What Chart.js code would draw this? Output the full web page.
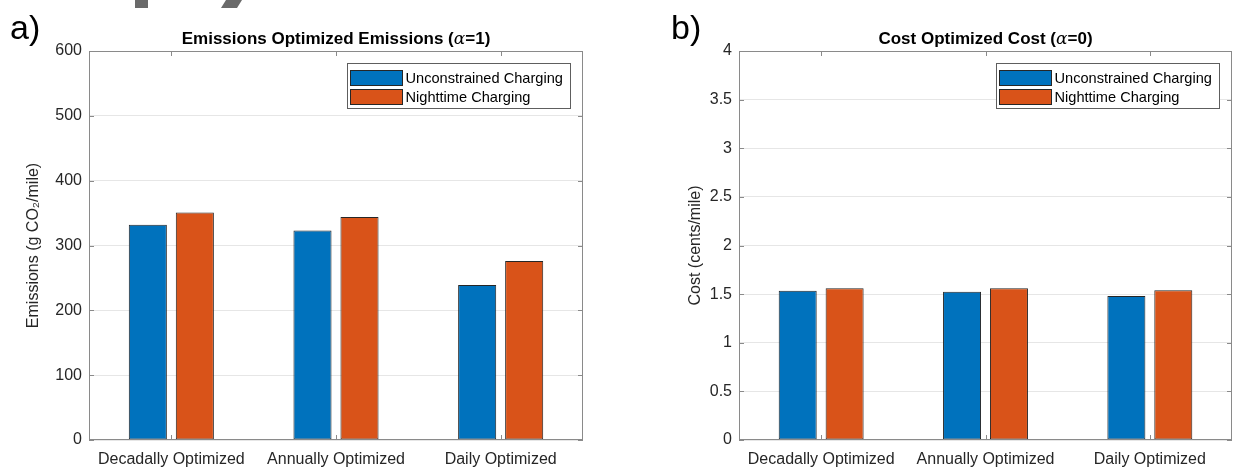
<!DOCTYPE html>
<html>
<head>
<meta charset="utf-8">
<script src="https://cdn.jsdelivr.net/npm/chart.js@4.4.1/dist/chart.umd.min.js"></script>
<style>
  body { margin: 0; background: #fff; }
  #wrap { position: relative; width: 1233px; height: 471px; overflow: hidden; background: #fff; }
  canvas { position: absolute; top: 0; }
</style>
</head>
<body>
<div id="wrap">
  <canvas id="chartA" width="620" height="471" style="left:0px"></canvas>
  <canvas id="chartB" width="613" height="471" style="left:620px"></canvas>
</div>
<script>
var categories = ["Decadally Optimized", "Annually Optimized", "Daily Optimized"];
var seriesNames = ["Unconstrained Charging", "Nighttime Charging"];
var emissionsUnconstrained = [332, 323, 239];
var emissionsNighttime = [351, 344, 276];
var costUnconstrained = [1.535, 1.525, 1.48];
var costNighttime = [1.56, 1.56, 1.54];
var emissionsTicks = [0, 100, 200, 300, 400, 500, 600];
var costTicks = [0, 0.5, 1, 1.5, 2, 2.5, 3, 3.5, 4];

var FONT = '"Liberation Sans", Arial, sans-serif';
var TEXT = '#262626';
var BOX = '#8a8a8a';

// frame, inner ticks, title, panel letter and legend (matlab look)
var panelPlugin = {
  id: 'panel',
  afterDraw: function(chart, args, opts) {
    var ctx = chart.ctx, a = chart.chartArea;
    var xs = chart.scales.x, ys = chart.scales.y;
    ctx.save();

    // inner ticks
    ctx.strokeStyle = BOX;
    ctx.lineWidth = 1;
    ctx.beginPath();
    categories.forEach(function(c, i) {
      var px = Math.round(xs.getPixelForValue(i)) + 0.5;
      ctx.moveTo(px, a.top); ctx.lineTo(px, a.top + 5);
      ctx.moveTo(px, a.bottom); ctx.lineTo(px, a.bottom - 5);
    });
    opts.ticks.forEach(function(v) {
      var py = Math.round(ys.getPixelForValue(v)) + 0.5;
      ctx.moveTo(a.left, py); ctx.lineTo(a.left + 5, py);
      ctx.moveTo(a.right, py); ctx.lineTo(a.right - 5, py);
    });
    ctx.stroke();

    // axes box
    ctx.strokeRect(Math.round(a.left) + 0.5, Math.round(a.top) + 0.5,
                   Math.round(a.right - a.left) - 1, Math.round(a.bottom - a.top) - 1);

    // title with italic alpha
    var parts = [
      { t: opts.title[0], f: 'bold 17px ' + FONT },
      { t: opts.title[1], f: 'italic 17px "DejaVu Serif", serif' },
      { t: opts.title[2], f: 'bold 17px ' + FONT }
    ];
    var total = 0;
    parts.forEach(function(p) { ctx.font = p.f; p.w = ctx.measureText(p.t).width; total += p.w; });
    var tx = (a.left + a.right) / 2 - total / 2;
    ctx.fillStyle = '#000';
    ctx.textBaseline = 'alphabetic';
    ctx.textAlign = 'left';
    parts.forEach(function(p) { ctx.font = p.f; ctx.fillText(p.t, tx, 44); tx += p.w; });

    // panel letter
    ctx.font = '34px ' + FONT;
    ctx.fillStyle = '#000';
    ctx.fillText(opts.letter, opts.letterX, 39);

    // legend
    var lw = 223, lh = 45;
    var lx = Math.round(a.right - 13 - lw) + 0.5, ly = Math.round(a.top + 12) + 0.5;
    ctx.fillStyle = '#fff';
    ctx.fillRect(lx, ly, lw, lh);
    ctx.strokeStyle = '#5e5e5e';
    ctx.strokeRect(lx, ly, lw, lh);
    ctx.font = '14.6px ' + FONT;
    ctx.textBaseline = 'middle';
    chart.data.datasets.forEach(function(ds, i) {
      var cy = ly + 14 + i * 19;
      ctx.fillStyle = ds.backgroundColor;
      ctx.fillRect(lx + 3, Math.round(cy - 7.5), 52, 15);
      ctx.strokeStyle = '#262626';
      ctx.strokeRect(lx + 3, Math.round(cy - 7.5) + 0.5, 52, 15);
      ctx.fillStyle = '#000';
      ctx.fillText(ds.label, lx + 58, cy + 1);
    });

    // cropped grey bits at the very top of the figure
    if (opts.crop) {
      ctx.fillStyle = '#6a6a6a';
      ctx.fillRect(135, 0, 13, 8);
      ctx.beginPath();
      ctx.moveTo(226, 0); ctx.lineTo(242, 0); ctx.lineTo(237, 8); ctx.lineTo(221, 8);
      ctx.closePath();
      ctx.fill();
    }
    ctx.restore();
  }
};

function makeChart(id, o) {
  var ctx = document.getElementById(id).getContext('2d');
  return new Chart(ctx, {
    type: 'bar',
    data: {
      labels: categories,
      datasets: [{
        label: seriesNames[0],
        data: o.blue,
        backgroundColor: '#0072BD',
        borderColor: '#262626',
        borderWidth: 1,
        borderSkipped: false,
        categoryPercentage: 0.571,
        barPercentage: 0.81
      }, {
        label: seriesNames[1],
        data: o.orange,
        backgroundColor: '#D95319',
        borderColor: '#262626',
        borderWidth: 1,
        borderSkipped: false,
        categoryPercentage: 0.571,
        barPercentage: 0.81
      }]
    },
    options: {
      responsive: false,
      animation: false,
      layout: { padding: { left: o.padLeft, top: 51, right: o.padRight, bottom: 0 } },
      plugins: {
        legend: { display: false },
        tooltip: { enabled: false },
        title: { display: false },
        panel: { ticks: o.ticks, title: o.title, letter: o.letter, letterX: o.letterX, crop: o.crop }
      },
      scales: {
        x: {
          grid: { display: false },
          border: { display: false },
          ticks: { padding: 2, color: TEXT, font: { family: FONT, size: 16 }, maxRotation: 0, autoSkip: false },
          afterFit: function(s) { s.height = 31; }
        },
        y: {
          min: 0,
          max: o.ticks[o.ticks.length - 1],
          grid: { color: '#e6e6e6', drawTicks: false },
          border: { display: false },
          ticks: {
            padding: 7, color: TEXT, font: { family: FONT, size: 16 },
            callback: function(v) { return String(v); }
          },
          afterBuildTicks: function(s) { s.ticks = o.ticks.map(function(v) { return { value: v }; }); },
          afterFit: function(s) { s.width = o.yWidth; },
          title: { display: true, text: o.yTitle, color: TEXT, font: { family: FONT, size: 16 }, padding: 0 }
        }
      }
    },
    plugins: [panelPlugin]
  });
}

makeChart('chartA', {
  blue: emissionsUnconstrained, orange: emissionsNighttime, ticks: emissionsTicks,
  yTitle: 'Emissions (g CO\u2082/mile)',
  title: ['Emissions Optimized Emissions (', '\u03b1', '=1)'],
  letter: 'a)', letterX: 10, crop: true,
  padLeft: 24, yWidth: 65, padRight: 37
});

// second canvas starts at x=620, so letterX is local
makeChart('chartB', {
  blue: costUnconstrained, orange: costNighttime, ticks: costTicks,
  yTitle: 'Cost (cents/mile)',
  title: ['Cost Optimized Cost (', '\u03b1', '=0)'],
  letter: 'b)', letterX: 51, crop: false,
  padLeft: 66, yWidth: 53, padRight: 1
});
</script>
</body>
</html>
